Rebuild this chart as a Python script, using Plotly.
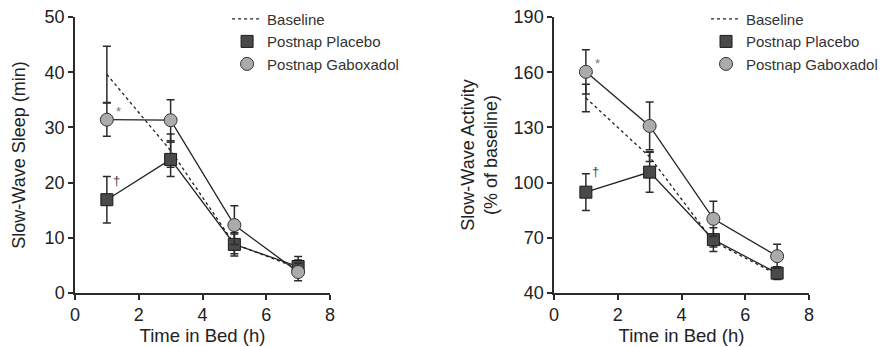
import plotly.graph_objects as go
from plotly.subplots import make_subplots

hours = [1, 3, 5, 7]

# Left panel: Slow-Wave Sleep (min)
sws_baseline = [39.6, 25.8, 8.9, 4.5]
sws_baseline_se = [5.1, 3.0, 1.8, 1.5]
sws_placebo = [16.9, 24.2, 8.8, 4.8]
sws_placebo_se = [4.2, 3.1, 2.1, 1.8]
sws_gabox = [31.4, 31.3, 12.3, 3.8]
sws_gabox_se = [3.0, 3.7, 3.5, 1.6]

# Right panel: Slow-Wave Activity (% of baseline)
swa_baseline = [146.0, 114.0, 68.0, 50.0]
swa_baseline_se = [7.5, 2.5, 3.0, 2.0]
swa_placebo = [94.8, 105.7, 69.0, 50.8]
swa_placebo_se = [10.0, 11.0, 6.5, 3.5]
swa_gabox = [160.2, 130.8, 80.3, 60.0]
swa_gabox_se = [12.0, 13.0, 9.5, 6.5]

names = ["Baseline", "Postnap Placebo", "Postnap Gaboxadol"]
sig_labels = ["*", "\u2020"]

FONT = "Liberation Sans, Arial, Helvetica, sans-serif"
AX = "#2b2b2b"
TXT = "#222222"

SQ = dict(symbol="square", size=12, color="#4a4a4a", line=dict(color="#1a1a1a", width=1))
CI = dict(symbol="circle", size=13, color="#ababab", line=dict(color="#333333", width=1))
DOT = dict(color="#222222", width=1.3, dash="dot")
SOLID = dict(color="#222222", width=1.3)

fig = make_subplots(rows=1, cols=2, horizontal_spacing=0.3052)

def add_panel(col, base, base_se, plac, plac_se, gab, gab_se, legend):
    fig.add_trace(go.Scatter(
        x=hours, y=base, name=names[0], mode="lines", line=DOT,
        error_y=dict(type="data", array=base_se, color=AX, thickness=1.5, width=4),
        legend=legend, showlegend=False), row=1, col=col)
    fig.add_trace(go.Scatter(
        x=hours, y=plac, name=names[1], mode="lines+markers", line=SOLID, marker=SQ,
        error_y=dict(type="data", array=plac_se, color=AX, thickness=1.5, width=4),
        legend=legend, showlegend=False), row=1, col=col)
    fig.add_trace(go.Scatter(
        x=hours, y=gab, name=names[2], mode="lines+markers", line=SOLID, marker=CI,
        error_y=dict(type="data", array=gab_se, color=AX, thickness=1.5, width=4),
        legend=legend, showlegend=False), row=1, col=col)
    # legend-only entries (marker-only symbols as in the original key)
    fig.add_trace(go.Scatter(x=[None], y=[None], name=names[0], mode="lines", line=DOT,
                             legend=legend, showlegend=True), row=1, col=col)
    fig.add_trace(go.Scatter(x=[None], y=[None], name=names[1], mode="markers", marker=SQ,
                             legend=legend, showlegend=True), row=1, col=col)
    fig.add_trace(go.Scatter(x=[None], y=[None], name=names[2], mode="markers", marker=CI,
                             legend=legend, showlegend=True), row=1, col=col)

add_panel(1, sws_baseline, sws_baseline_se, sws_placebo, sws_placebo_se,
          sws_gabox, sws_gabox_se, "legend")
add_panel(2, swa_baseline, swa_baseline_se, swa_placebo, swa_placebo_se,
          swa_gabox, swa_gabox_se, "legend2")

axis_common = dict(showline=True, linecolor=AX, linewidth=1.5, ticks="outside",
                   tickcolor=AX, ticklen=5, tickwidth=1.5, showgrid=False,
                   zeroline=False, automargin=False,
                   tickfont=dict(size=18, color=TXT, family=FONT))

fig.update_xaxes(range=[0, 8], tickvals=[0, 2, 4, 6, 8], **axis_common,
                 title=dict(text="Time in Bed (h)", font=dict(size=18.5, color=TXT, family=FONT),
                            standoff=5))
fig.update_yaxes(range=[0, 50], tickvals=[0, 10, 20, 30, 40, 50], **axis_common,
                 title=dict(text="Slow-Wave Sleep (min)", font=dict(size=18, color=TXT, family=FONT),
                            standoff=14), row=1, col=1)
fig.update_yaxes(range=[40, 190], tickvals=[40, 70, 100, 130, 160, 190], **axis_common,
                 title=dict(text="Slow-Wave Activity<br>(% of baseline)",
                            font=dict(size=18, color=TXT, family=FONT), standoff=11),
                 row=1, col=2)

# significance markers
fig.add_annotation(x=hours[0], y=sws_gabox[0] + 1.5, xref="x", yref="y", text=sig_labels[0],
                   showarrow=False, xshift=12, font=dict(size=13, color="#777777", family=FONT))
fig.add_annotation(x=hours[0], y=sws_placebo[0] + 3.5, xref="x", yref="y", text=sig_labels[1],
                   showarrow=False, xshift=10, font=dict(size=13, color="#444444", family=FONT))
fig.add_annotation(x=hours[0], y=swa_gabox[0] + 4.5, xref="x2", yref="y2", text=sig_labels[0],
                   showarrow=False, xshift=12, font=dict(size=13, color="#777777", family=FONT))
fig.add_annotation(x=hours[0], y=swa_placebo[0] + 11.5, xref="x2", yref="y2", text=sig_labels[1],
                   showarrow=False, xshift=10, font=dict(size=13, color="#444444", family=FONT))

legend_common = dict(font=dict(size=15, color="#333333", family=FONT), bgcolor="rgba(0,0,0,0)",
                     itemwidth=30, tracegroupgap=0, xanchor="left", yanchor="top",
                     itemclick=False)

fig.update_layout(
    width=885, height=347,
    margin=dict(l=75, r=76, t=17, b=54, autoexpand=False),
    paper_bgcolor="white", plot_bgcolor="white",
    font=dict(family=FONT),
    legend=dict(x=0.2072, y=1.052, **legend_common),
    legend2=dict(x=0.8597, y=1.052, **legend_common),
)

fig.write_html("out.html", config={"displayModeBar": False},
               post_script="document.body.style.margin='0px';document.body.style.overflow='hidden';")
